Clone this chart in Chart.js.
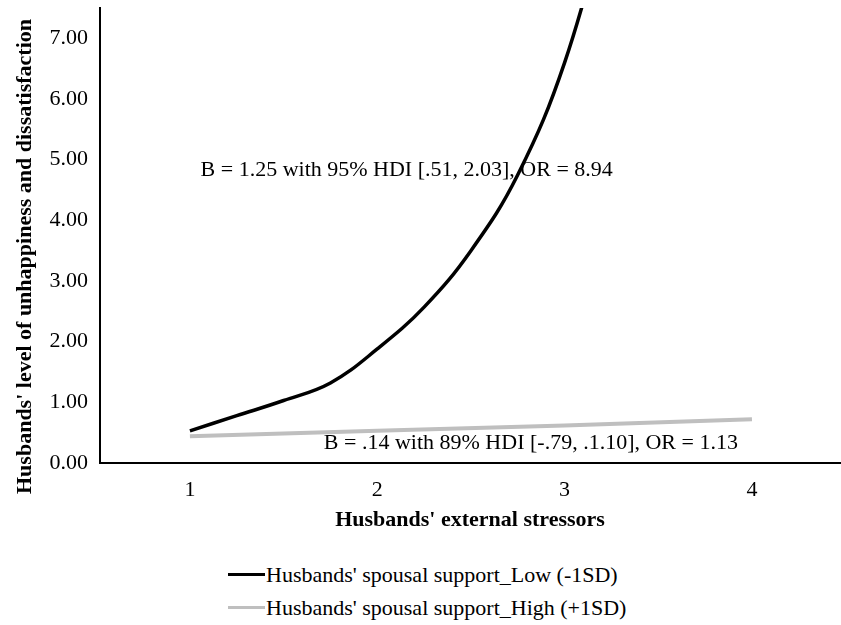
<!DOCTYPE html>
<html>
<head>
<meta charset="utf-8">
<script src="https://cdn.jsdelivr.net/npm/chart.js@4.4.1/dist/chart.umd.min.js"></script>
<style>
  html, body { margin: 0; padding: 0; background: #fff; }
  #wrap { position: relative; width: 841px; height: 625px; }
  #chartBox { position: absolute; left: 0; top: 0; width: 841px; height: 540px; }
  #legend { position: absolute; left: 228px; top: 558px; font-family: "Liberation Serif", "Times New Roman", serif; font-size: 22px; color: #000; }
  .item { display: flex; align-items: center; height: 33px; }
  .swatch { width: 37px; height: 3px; margin-right: 1px; }
</style>
</head>
<body>
<div id="wrap">
  <div id="chartBox"><canvas id="myChart"></canvas></div>
  <div id="legend"></div>
</div>
<script>
// x positions of the stressor levels
const xTicks = [1, 2, 3, 4];
const yTicks = [0, 1, 2, 3, 4, 5, 6, 7];

// Low spousal support (-1SD) curve
const lowX = [1, 1.25, 1.5, 1.75, 2, 2.25, 2.5, 2.75, 3, 3.25];
const lowY = [0.53, 0.78, 1.03, 1.32, 1.88, 2.57, 3.5, 4.75, 6.6, 9.3];

// High spousal support (+1SD) line
const highX = [1, 2, 3, 4];
const highY = [0.44, 0.53, 0.62, 0.72];

const seriesNames = ["Husbands' spousal support_Low (-1SD)", "Husbands' spousal support_High (+1SD)"];
const seriesColors = ["#000000", "#bfbfbf"];

// text notes and where they sit in data units
const noteTexts = ["B = 1.25 with 95% HDI [.51, 2.03], OR = 8.94", "B = .14 with 89% HDI [-.79, .1.10], OR = 1.13"];
const noteX = [2.157, 2.82];
const noteY = [4.83, 0.33];

const yTitle = "Husbands' level of unhappiness and dissatisfaction";
const fontFamily = '"Liberation Serif", "Times New Roman", serif';

const toPoints = (xs, ys) => xs.map((x, i) => ({ x: x, y: ys[i] }));

// plugin that writes the two notes and the y title (sits a bit below centre in the original)
const notesPlugin = {
  id: "notes",
  afterDraw(chart) {
    const ctx = chart.ctx;
    const xs = chart.scales.x;
    const ys = chart.scales.y;
    const area = chart.chartArea;
    ctx.save();
    ctx.fillStyle = "#000";
    ctx.textAlign = "center";
    ctx.textBaseline = "middle";
    ctx.font = "22px " + fontFamily;
    noteTexts.forEach((t, i) => {
      ctx.fillText(t, xs.getPixelForValue(noteX[i]), ys.getPixelForValue(noteY[i]));
    });
    ctx.font = "bold 22px " + fontFamily;
    ctx.translate(25, (area.top + area.bottom) / 2 + 21);
    ctx.rotate(-Math.PI / 2);
    ctx.fillText(yTitle, 0, 0);
    ctx.restore();
  }
};

const ctx = document.getElementById("myChart").getContext("2d");
const myChart = new Chart(ctx, {
  type: "line",
  data: {
    datasets: [
      {
        label: seriesNames[0],
        data: toPoints(lowX, lowY),
        borderColor: seriesColors[0],
        borderWidth: 3.5,
        pointRadius: 0,
        tension: 0.4,
      },
      {
        label: seriesNames[1],
        data: toPoints(highX, highY),
        borderColor: seriesColors[1],
        borderWidth: 4,
        pointRadius: 0,
      },
    ],
  },
  options: {
    responsive: true,
    maintainAspectRatio: false,
    animation: false,
    layout: { padding: { top: 8, right: 1, left: 0, bottom: 0 } },
    plugins: {
      legend: { display: false },
      tooltip: { enabled: false },
    },
    scales: {
      x: {
        type: "linear",
        min: 0.52,
        max: 4.47,
        afterBuildTicks: (scale) => { scale.ticks = xTicks.map((v) => ({ value: v })); },
        afterFit: (scale) => {
          scale.height = 77;
          scale.paddingLeft = 0;
          scale.paddingRight = 0;
        },
        grid: { display: false, drawTicks: false },
        border: { color: "#000", width: 2 },
        ticks: {
          padding: 14,
          color: "#000",
          font: { family: fontFamily, size: 22 },
          callback: (v) => String(v),
        },
        title: {
          display: true,
          text: "Husbands' external stressors",
          color: "#000",
          font: { family: fontFamily, size: 22, weight: "bold" },
          padding: { top: 0, bottom: 6 },
        },
      },
      y: {
        min: 0,
        max: 7.5,
        afterBuildTicks: (scale) => { scale.ticks = yTicks.map((v) => ({ value: v })); },
        afterFit: (scale) => {
          scale.width = 100;
          scale.paddingTop = 0;
          scale.paddingBottom = 0;
        },
        grid: { display: false, drawTicks: false },
        border: { color: "#000", width: 2 },
        ticks: {
          padding: 12,
          color: "#000",
          font: { family: fontFamily, size: 22 },
          callback: (v) => v.toFixed(2),
        },
        title: { display: false },
      },
    },
  },
  plugins: [notesPlugin],
});

// legend built from the chart's datasets, stacked like the original
const legendEl = document.getElementById("legend");
myChart.data.datasets.forEach((ds) => {
  const row = document.createElement("div");
  row.className = "item";
  const sw = document.createElement("span");
  sw.className = "swatch";
  sw.style.background = ds.borderColor;
  const txt = document.createElement("span");
  txt.textContent = ds.label;
  row.appendChild(sw);
  row.appendChild(txt);
  legendEl.appendChild(row);
});
</script>
</body>
</html>
